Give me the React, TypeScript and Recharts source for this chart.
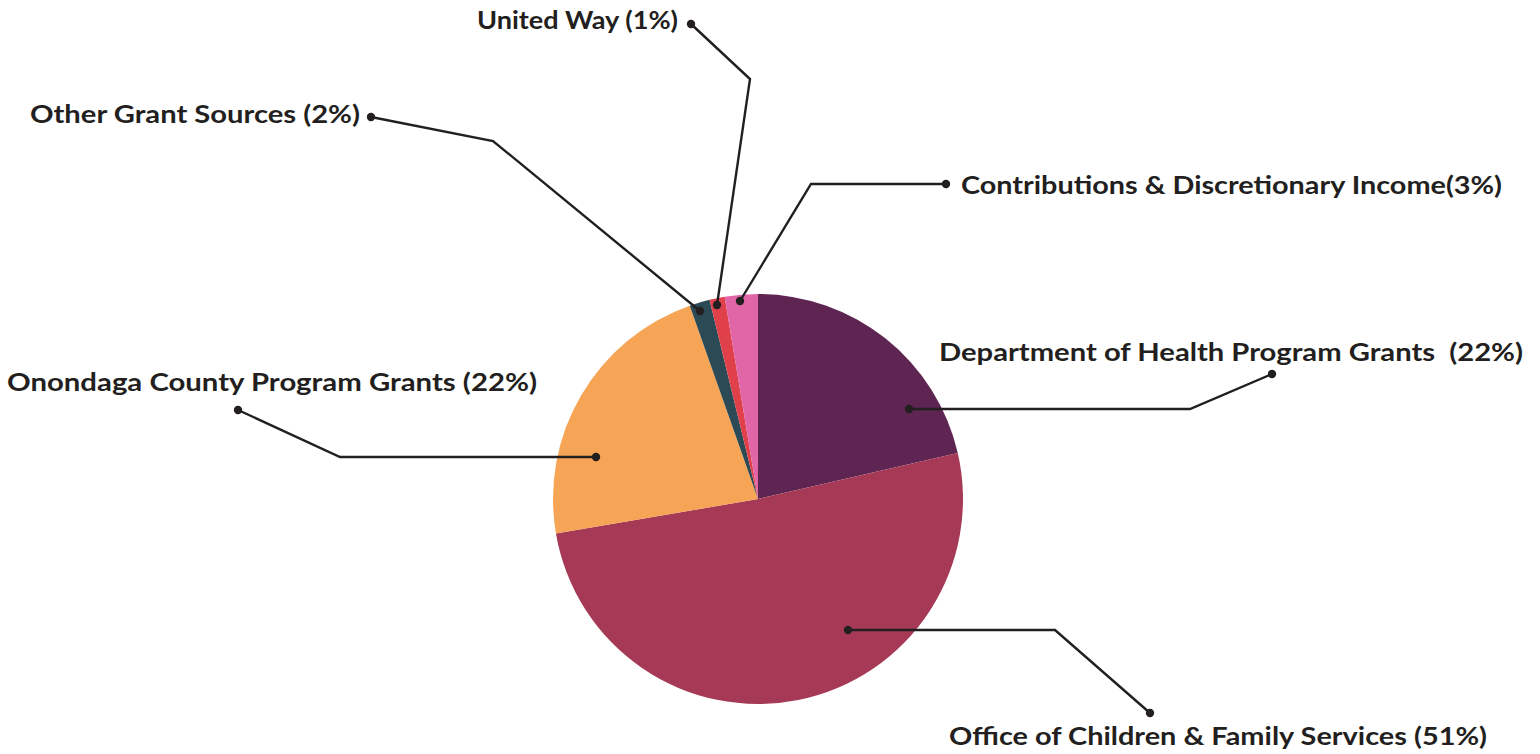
import React from "react";
import { PieChart, Pie, Cell } from "recharts";

const categories = [
  "Department of Health Program Grants  (22%)",
  "Office of Children & Family Services (51%)",
  "Onondaga County Program Grants (22%)",
  "Other Grant Sources (2%)",
  "United Way (1%)",
  "Contributions & Discretionary Income(3%)",
];
const shares = [21.4, 50.9, 22.3, 1.6, 1.2, 2.6];
const colors = ["#5E2553", "#A63A56", "#F6A455", "#2B4A55", "#E0404A", "#E066A8"];

// Leader-line layout, offsets relative to pie centre: [dot, elbow, end], text x, baseline, width
const leaderLayout = [
  { pts: [[151, -90], [432, -90], [514, -125]], tx: 181, ty: -138, tw: 584 },
  { pts: [[90, 131], [297, 131], [392, 214]], tx: 191, ty: 246, tw: 538 },
  { pts: [[-162, -42], [-418, -42], [-520, -89]], tx: -751, ty: -108, tw: 530 },
  { pts: [[-58, -188], [-265, -358], [-387, -382]], tx: -728, ty: -376, tw: 330 },
  { pts: [[-41, -194], [-8, -420], [-67, -475]], tx: -281, ty: -470, tw: 201 },
  { pts: [[-18, -198], [53, -315], [188, -315]], tx: 203, ty: -305, tw: 541 },
];

const data = categories.map((name, i) => ({ name, value: shares[i] }));

const INK = "#231F20";

const renderLabel = (props: any) => {
  const { cx, cy, index } = props;
  const lay = leaderLayout[index];
  if (!lay) return null;
  const pts = lay.pts.map(([dx, dy]) => [cx + dx, cy + dy]);
  return (
    <g key={`lbl-${index}`}>
      <polyline
        points={pts.map((p) => p.join(",")).join(" ")}
        fill="none"
        stroke={INK}
        strokeWidth={2.4}
        strokeLinejoin="miter"
      />
      <circle cx={pts[0][0]} cy={pts[0][1]} r={4.2} fill={INK} />
      <circle cx={pts[2][0]} cy={pts[2][1]} r={4.2} fill={INK} />
      <text
        x={cx + lay.tx}
        y={cy + lay.ty}
        textAnchor="start"
        fill={INK}
        fontFamily="Lato, 'Open Sans', sans-serif"
        fontWeight={700}
        fontSize={24}
        textLength={lay.tw}
        lengthAdjust="spacingAndGlyphs"
        style={{ whiteSpace: "pre" }}
      >
        {categories[index]}
      </text>
    </g>
  );
};

export default function App() {
  return (
    <div style={{ width: 1540, height: 754, background: "#fff" }}>
      <style>{"body{margin:0;background:#fff}"}</style>
      <PieChart width={1540} height={754} margin={{ top: 0, right: 0, bottom: 0, left: 0 }}>
        <Pie
          data={data}
          dataKey="value"
          nameKey="name"
          cx={758}
          cy={499}
          outerRadius={205}
          startAngle={90}
          endAngle={-270}
          stroke="none"
          labelLine={false}
          label={renderLabel}
          isAnimationActive={false}
        >
          {data.map((d, i) => (
            <Cell key={d.name} fill={colors[i]} stroke="none" />
          ))}
        </Pie>
      </PieChart>
    </div>
  );
}
